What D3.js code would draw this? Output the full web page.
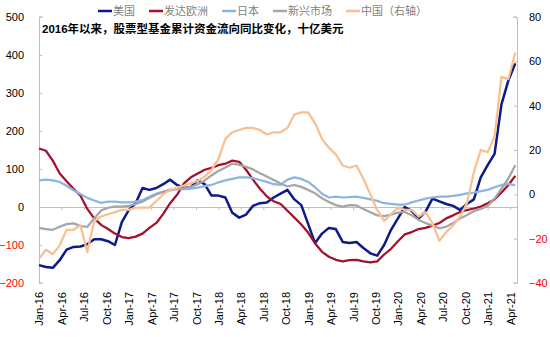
<!DOCTYPE html>
<html><head><meta charset="utf-8">
<script src="https://cdn.jsdelivr.net/npm/d3@7"></script>
<style>
html,body{margin:0;padding:0;background:#fff;}
svg{display:block;}
</style></head>
<body><svg id="chart" width="550" height="337"></svg>
<script>
// ---- data (4-week sampling, week index = 4*i from first week of Jan 2016) ----
const tickLabels = ["Jan-16","Apr-16","Jul-16","Oct-16","Jan-17","Apr-17","Jul-17","Oct-17",
  "Jan-18","Apr-18","Jul-18","Oct-18","Jan-19","Apr-19","Jul-19","Oct-19",
  "Jan-20","Apr-20","Jul-20","Oct-20","Jan-21","Apr-21"];
const seriesNames = ["美国","发达欧洲","日本","新兴市场","中国（右轴）"];
const usa = [-153,-158,-160,-140,-112,-105,-104,-98,-85,-85,-90,-100,-40,-8,10,50,45,50,60,72,
  58,50,53,70,60,30,30,25,-15,-28,-20,3,10,12,25,35,45,20,5,-45,
  -95,-70,-55,-58,-92,-95,-92,-108,-122,-128,-100,-60,-30,0,-10,-30,-12,22,15,8,
  3,-8,8,20,78,110,140,270,333,378];
const europe = [154,148,122,88,68,48,30,-5,-30,-47,-58,-70,-79,-82,-78,-70,-55,-42,-18,10,
  32,62,78,88,98,103,110,114,122,119,98,72,48,28,15,8,-10,-28,-46,-68,
  -96,-118,-131,-139,-143,-140,-139,-143,-146,-143,-125,-110,-90,-72,-66,-58,-55,-49,-42,-30,
  -22,-13,-8,-4,1,10,20,38,58,82];
const japan = [70,72,70,66,56,44,34,24,17,11,14,14,12,12,14,18,27,35,40,44,
  47,47,48,51,55,58,65,70,74,78,78,76,71,66,60,58,72,78,74,66,
  52,35,25,27,25,26,27,24,20,16,10,8,6,6,12,17,22,25,27,27,
  29,32,36,38,42,45,52,58,61,57];
const emerging = [-55,-58,-60,-52,-45,-43,-50,-52,-30,-9,-2,1,1,3,8,14,24,33,40,46,
  48,50,53,60,70,83,95,104,114,111,106,99,89,80,71,62,54,58,53,45,
  36,23,13,5,1,5,4,-5,-14,-22,-24,-20,-15,-13,-22,-34,-42,-49,-56,-52,
  -42,-30,-21,-11,-5,3,22,48,75,110];
const china = [-29,-25,-27,-23,-16,-16,-14,-26,-12,-10,-9,-8,-7,-7,-6,-6,-6,-3,0,2,
  3,4,5,6,8,11,16,25,28,29,30,30,29,27,28,28,30,36,37,37,
  32,25,21,18,13,12,13,7,0,-7,-12,-9,-6,-7,-7,-10,-8,-13,-21,-17,
  -14,-10,-4,10,20,19,26,53,52,64];
const leftTicks = [-200,-100,0,100,200,300,400,500];
const rightTicks = [-40,-20,0,20,40,60,80];
const title = "2016年以来，股票型基金累计资金流向同比变化，十亿美元";

// ---- layout ----
const svg = d3.select("#chart");
const X0 = 39, X1 = 517, Ytop = 17, Ybot = 283;
const WEEKS_PER_POINT = 4, WEEKS_PER_TICK = 13;
const x = d3.scaleLinear().domain([0, 277]).range([X0, X1]);
const yL = d3.scaleLinear().domain([-200, 500]).range([Ybot, Ytop]);
const yR = d3.scaleLinear().domain([-40, 80]).range([Ybot, Ytop]);
const axisColor = "#bfbfbf";
const fontSans = "'Liberation Sans', Arial, sans-serif";
const fontCJK = "'Liberation Sans', 'Noto Sans CJK SC', sans-serif";

// zero line with ticks (category axis)
const zx = svg.append("g").attr("transform", `translate(0,${yL(0)})`)
  .call(d3.axisBottom(x).tickValues(tickLabels.map((d,i)=>i*WEEKS_PER_TICK))
    .tickSize(3).tickFormat("").tickSizeOuter(0));
zx.selectAll("path,line").attr("stroke", axisColor).attr("stroke-width", 1);

// x labels at bottom
const xl = svg.append("g").attr("transform", `translate(0,${Ybot})`)
  .call(d3.axisBottom(x).tickValues(tickLabels.map((d,i)=>i*WEEKS_PER_TICK))
    .tickSize(0).tickFormat((d,i)=>tickLabels[i]));
xl.select(".domain").remove();
xl.selectAll("text").attr("font-family", fontSans).attr("font-size", 11).attr("fill", "#000")
  .attr("transform", "rotate(-90)").attr("text-anchor", "end")
  .attr("x", -9).attr("y", 0).attr("dy", "0.36em");

// left axis
const la = svg.append("g").attr("transform", `translate(${X0},0)`)
  .call(d3.axisLeft(yL).tickValues(leftTicks).tickSize(-3).tickPadding(15).tickSizeOuter(0));
la.selectAll("path,line").attr("stroke", axisColor);
la.selectAll("text").attr("font-family", fontSans).attr("font-size", 11)
  .attr("fill", d => d < 0 ? "#ff0000" : "#000");

// right axis
const ra = svg.append("g").attr("transform", `translate(${X1},0)`)
  .call(d3.axisRight(yR).tickValues(rightTicks).tickSize(-3).tickPadding(12).tickSizeOuter(0));
ra.selectAll("path,line").attr("stroke", axisColor);
ra.selectAll("text").attr("font-family", fontSans).attr("font-size", 11)
  .attr("fill", d => d < 0 ? "#ff0000" : "#000");
// small outer brackets
[la, ra].forEach((g, j) => {
  const dir = j === 0 ? 4 : -4;
  [Ytop, Ybot].forEach(yy => g.append("line").attr("x1", 0).attr("x2", dir)
    .attr("y1", yy).attr("y2", yy).attr("stroke", axisColor));
});

// lines
const colors = ["#0c1a8a", "#a5102b", "#8db4e2", "#a6a6a6", "#f9bf8f"];
const data = [usa, europe, japan, emerging, china];
data.forEach((arr, s) => {
  const ys = s === 4 ? yR : yL;
  const line = d3.line().x((d,i)=>x(i*WEEKS_PER_POINT)).y(d=>ys(d));
  svg.append("path").datum(arr).attr("d", line).attr("fill", "none")
    .attr("stroke", colors[s]).attr("stroke-width", s === 0 ? 2.5 : 2.25)
    .attr("stroke-linejoin", "round");
});

// title
svg.append("text").attr("x", 42).attr("y", 33).attr("font-family", fontCJK)
  .attr("font-size", 11.5).attr("font-weight", "bold").attr("fill", "#000").text(title);

// legend
let lx = 98;
const ly = 11;
seriesNames.forEach((name, i) => {
  svg.append("line").attr("x1", lx).attr("x2", lx + 14).attr("y1", ly).attr("y2", ly)
    .attr("stroke", colors[i]).attr("stroke-width", 2.5);
  const t = svg.append("text").attr("x", lx + 15).attr("y", ly).attr("dy", "0.36em")
    .attr("font-family", "'Noto Sans CJK SC', sans-serif").attr("font-size", 11)
    .attr("fill", "#7f7f7f").text(name);
  lx += 15 + t.node().getComputedTextLength() + 14;
});
</script></body></html>
